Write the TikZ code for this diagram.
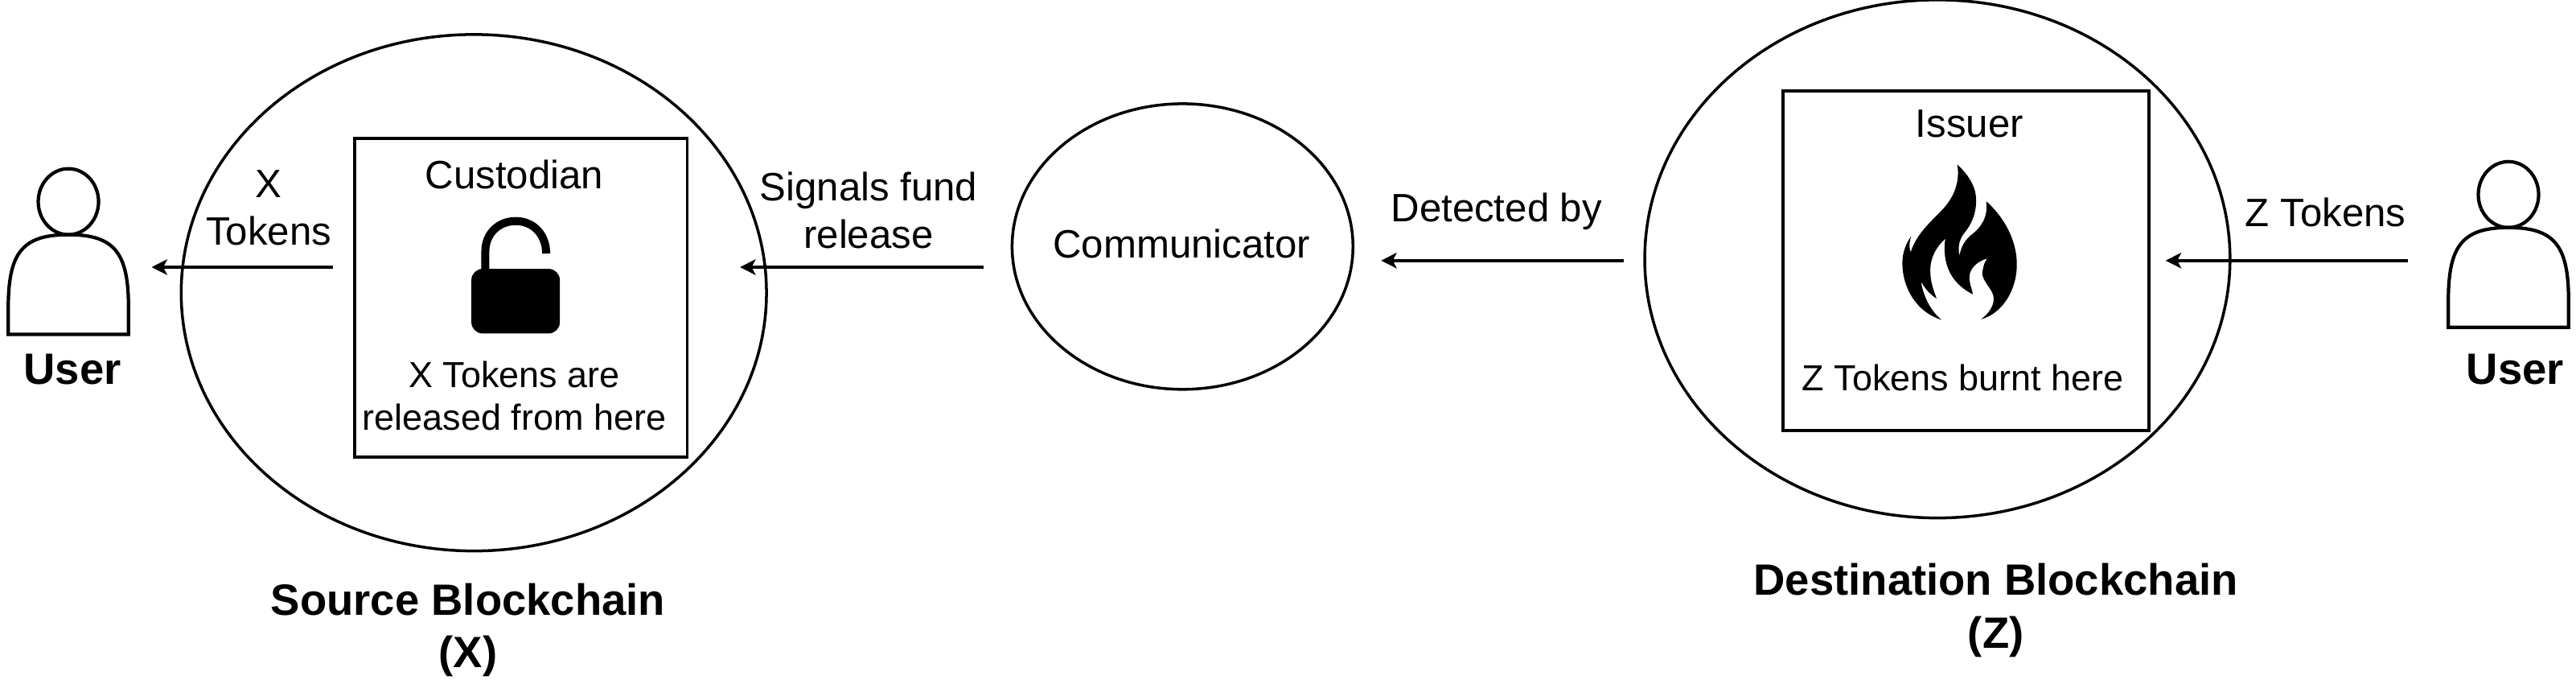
\documentclass[tikz,border=0pt]{standalone}
\usepackage{fontspec}
\setmainfont{Liberation Sans}
\usetikzlibrary{shapes.geometric,arrows.meta}
\tikzset{
  chain/.style={draw,ellipse,line width=1pt,inner sep=0pt},
  holder/.style={draw,rectangle,line width=1.1pt,inner sep=0pt},
  lbl/.style={align=center,inner sep=0pt,font=\fontsize{14}{16.9}\selectfont},
  smalllbl/.style={align=center,inner sep=0pt,font=\fontsize{12.8}{15.2}\selectfont},
  boldlbl/.style={align=center,inner sep=0pt,font=\fontsize{15.5}{18.7}\selectfont\bfseries},
  flow/.style={line width=1pt,-{Stealth[length=5.5pt,width=5.5pt,inset=1.4pt]}}
}
\def\drawuser#1#2{
  \draw[line width=1.2pt] (#1,#2-20) ellipse (18.3 and 20);
  \draw[line width=1.2pt] (#1-36.5,#2+60.5) -- (#1-36.5,#2+45)
     .. controls (#1-36.5,#2+12) and (#1-29,#2) .. (#1,#2)
     .. controls (#1+29,#2) and (#1+36.5,#2+12) .. (#1+36.5,#2+45)
     -- (#1+36.5,#2+60.5) -- cycle;
}
\begin{document}
\begin{tikzpicture}[x=0.205mm,y=-0.205mm]
  \useasboundingbox (0,0) rectangle (1563,412.3);
  % blockchains and the communicator
  \node[chain,minimum width=72.8mm,minimum height=64.2mm] (source) at (287.5,177.5) {};
  \node[chain,minimum width=42.4mm,minimum height=35.5mm] (comm) at (717.5,149.5) {};
  \node[chain,minimum width=72.8mm,minimum height=64.4mm] (dest) at (1175.5,157) {};
  \node[holder,minimum width=41.4mm,minimum height=39.6mm] (custodian) at (316,180.5) {};
  \node[holder,minimum width=45.5mm,minimum height=42.2mm] (issuer) at (1193,158) {};
  % labels
  \node[lbl] (custtxt) at (312,106) {Custodian};
  \node[smalllbl] (reltxt) at (312,240) {X Tokens are\\released from here};
  \node[lbl] (xtok) at (163,126) {X\\Tokens};
  \node[lbl] (signal) at (527,127.5) {Signals fund\\release};
  \node[lbl] (commtxt) at (717,148) {Communicator};
  \node[lbl] (detect) at (908,128) {Detected by};
  \node[lbl] (isstxt) at (1195,75) {Issuer};
  \node[smalllbl] (burntxt) at (1191,229) {Z Tokens burnt here};
  \node[lbl] (ztok) at (1411,129) {Z Tokens};
  \node[boldlbl] (srctxt) at (284,382) {Source Blockchain\\(X)};
  \node[boldlbl] (desttxt) at (1211,370) {Destination Blockchain\\(Z)};
  \node[boldlbl] (userl) at (44,224) {User};
  \node[boldlbl] (userr) at (1526,224) {User};
  % users
  \drawuser{41.5}{142.3}
  \drawuser{1522}{138}
  % lock
  \begin{scope}[shift={(278.2,126.9)},scale=0.16268]
    \fill[rounded corners=4pt] (48,222) rectangle (378,463);
    \draw[line width=2.85pt] (100,225) -- (100,157)
      .. controls (100,90) and (150,44) .. (213,44)
      .. controls (280,44) and (327,95) .. (327,165);
  \end{scope}
  % flame
  \begin{scope}[shift={(1151.8,95.2)},scale=0.16268]
    \fill (220,28) .. controls (270,75) and (292,120) .. (290,165)
      .. controls (290,215) and (270,255) .. (245,285)
      .. controls (225,310) and (222,340) .. (228,368)
      .. controls (235,330) and (250,310) .. (270,292)
      .. controls (310,262) and (335,225) .. (328,165)
      .. controls (395,225) and (442,310) .. (442,400)
      .. controls (442,500) and (385,585) .. (308,605)
      .. controls (350,575) and (365,535) .. (350,505)
      .. controls (335,475) and (305,450) .. (315,420)
      .. controls (318,405) and (322,390) .. (332,378)
      .. controls (290,390) and (262,420) .. (265,455)
      .. controls (267,475) and (275,495) .. (278,512)
      .. controls (215,480) and (160,420) .. (175,305)
      .. controls (130,345) and (115,395) .. (120,440)
      .. controls (122,475) and (135,505) .. (143,528)
      .. controls (115,510) and (100,490) .. (85,465)
      .. controls (92,520) and (125,580) .. (162,607)
      .. controls (70,580) and (15,490) .. (15,395)
      .. controls (15,355) and (30,320) .. (48,295)
      .. controls (40,320) and (40,340) .. (46,355)
      .. controls (70,280) and (130,235) .. (170,190)
      .. controls (210,145) and (230,90) .. (220,28) -- cycle;
  \end{scope}
  % connector ends
  \coordinate (a1) at (202,162);
  \coordinate (a2) at (92,162);
  \coordinate (b1) at (597,162);
  \coordinate (b2) at (449,162);
  \coordinate (c1) at (985,158);
  \coordinate (c2) at (838,158);
  \coordinate (d1) at (1461,158);
  \coordinate (d2) at (1314,158);
  \draw[flow] (a1) -- (a2);
  \draw[flow] (b1) -- (b2);
  \draw[flow] (c1) -- (c2);
  \draw[flow] (d1) -- (d2);
\end{tikzpicture}
\end{document}
